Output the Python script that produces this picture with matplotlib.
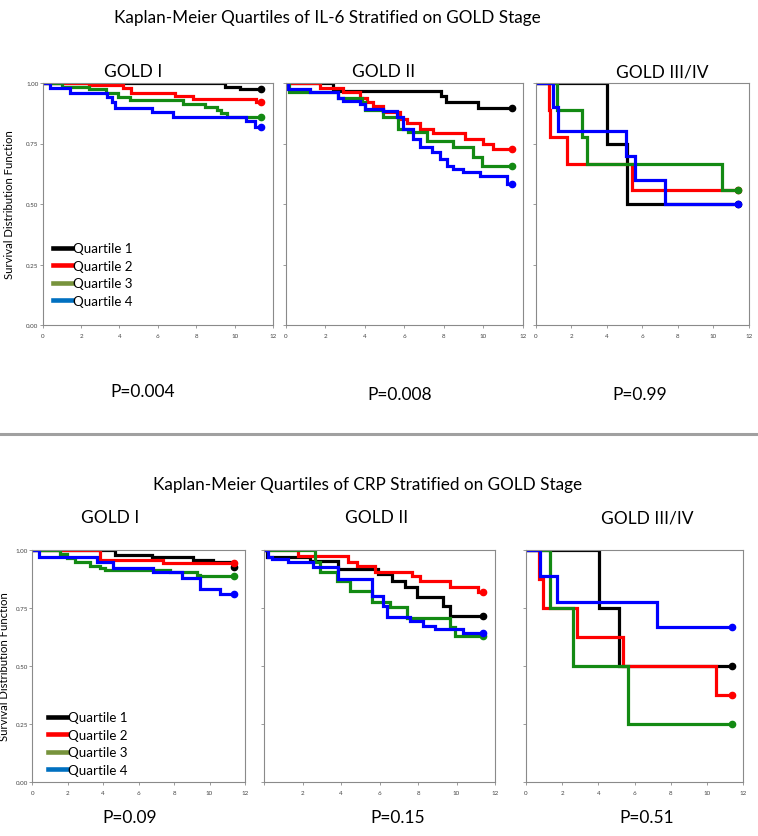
import matplotlib
matplotlib.use("Agg")
import matplotlib.pyplot as plt
from matplotlib.lines import Line2D

plt.rcParams["font.family"] = ["Lato", "DejaVu Sans"]

W, H = 758, 837

QUARTILES = ["Quartile 1", "Quartile 2", "Quartile 3", "Quartile 4"]
LINE_COLORS = ["#000000", "#ff0000", "#138a13", "#0000ff"]
LEGEND_COLORS = ["#000000", "#ff0000", "#77933c", "#0070c0"]
STAGES = ["GOLD I", "GOLD II", "GOLD III/IV"]
TITLES = ["Kaplan-Meier Quartiles of IL-6 Stratified on GOLD Stage",
          "Kaplan-Meier Quartiles of CRP Stratified on GOLD Stage"]
P_IL6 = ["P=0.004", "P=0.008", "P=0.99"]
P_CRP = ["P=0.09", "P=0.15", "P=0.51"]
X_TICKS = [0, 2, 4, 6, 8, 10, 12]
X_LABELS = ["0", "2", "4", "6", "8", "10", "12"]
X_LABELS_NO0 = ["", "2", "4", "6", "8", "10", "12"]
Y_TICKS = [0, 0.25, 0.5, 0.75, 1.0]
Y_LABELS = ["0.00", "0.25", "0.50", "0.75", "1.00"]

# ── IL-6, GOLD I ──────────────────────────────────────────────────────────
IL6_G1_Q1_T = [0, 9.5, 10.3, 11.4]
IL6_G1_Q1_S = [1, 0.985, 0.975, 0.975]
IL6_G1_Q2_T = [0, 2.4, 4.2, 4.6, 6.9, 7.85, 11.1, 11.4]
IL6_G1_Q2_S = [1, 0.99, 0.978, 0.959, 0.945, 0.934, 0.92, 0.92]
IL6_G1_Q3_T = [0, 1.0, 2.4, 3.3, 3.9, 4.55, 7.3, 8.45, 9.06, 9.3, 9.6, 11.4]
IL6_G1_Q3_S = [1, 0.985, 0.975, 0.957, 0.942, 0.929, 0.913, 0.9, 0.888, 0.875, 0.861, 0.861]
IL6_G1_Q4_T = [0, 0.38, 1.42, 3.33, 3.6, 3.76, 5.68, 6.8, 10.6, 11.06, 11.4]
IL6_G1_Q4_S = [1, 0.979, 0.959, 0.942, 0.921, 0.897, 0.88, 0.858, 0.845, 0.817, 0.817]

# ── IL-6, GOLD II ─────────────────────────────────────────────────────────
IL6_G2_Q1_T = [0, 2.4, 7.85, 8.1, 9.74, 11.45]
IL6_G2_Q1_S = [1, 0.968, 0.945, 0.92, 0.897, 0.897]
IL6_G2_Q2_T = [0, 1.73, 2.91, 3.76, 4.09, 4.4, 4.94, 5.78, 6.12, 6.79, 7.46, 9.06, 9.99, 10.5, 11.45]
IL6_G2_Q2_S = [1, 0.978, 0.961, 0.94, 0.92, 0.906, 0.879, 0.851, 0.833, 0.81, 0.792, 0.769, 0.748, 0.727, 0.727]
IL6_G2_Q3_T = [0, 0.18, 2.66, 3.84, 4.01, 4.94, 5.69, 6.2, 7.13, 8.47, 9.49, 9.91, 11.45]
IL6_G2_Q3_S = [1, 0.961, 0.94, 0.92, 0.89, 0.858, 0.81, 0.796, 0.762, 0.734, 0.693, 0.658, 0.658]
IL6_G2_Q4_T = [0, 0.13, 1.23, 2.66, 2.91, 3.76, 4.01, 4.94, 5.61, 5.95, 6.45, 6.79, 7.38, 7.8,
               8.14, 8.47, 8.98, 9.82, 11.17, 11.45]
IL6_G2_Q4_S = [1, 0.975, 0.961, 0.94, 0.927, 0.913, 0.893, 0.886, 0.858, 0.81, 0.769, 0.734, 0.713, 0.686,
               0.658, 0.645, 0.631, 0.617, 0.583, 0.583]

# ── IL-6, GOLD III/IV ─────────────────────────────────────────────────────
IL6_G3_Q1_T = [0, 4.03, 5.12, 11.4]
IL6_G3_Q1_S = [1, 0.75, 0.5, 0.5]
IL6_G3_Q2_T = [0, 0.75, 0.8, 1.76, 5.4, 11.4]
IL6_G3_Q2_S = [1, 0.889, 0.778, 0.667, 0.556, 0.556]
IL6_G3_Q3_T = [0, 1.18, 2.6, 2.87, 10.46, 11.4]
IL6_G3_Q3_S = [1, 0.889, 0.778, 0.667, 0.556, 0.556]
IL6_G3_Q4_T = [0, 0.99, 1.27, 5.08, 5.58, 7.27, 11.4]
IL6_G3_Q4_S = [1, 0.9, 0.8, 0.7, 0.6, 0.5, 0.5]

# ── CRP, GOLD I ───────────────────────────────────────────────────────────
CRP_G1_Q1_T = [0, 4.67, 6.73, 9.09, 10.22, 11.3, 11.4]
CRP_G1_Q1_S = [1, 0.98, 0.968, 0.957, 0.947, 0.928, 0.928]
CRP_G1_Q2_T = [0, 3.82, 7.4, 11.4]
CRP_G1_Q2_S = [1, 0.958, 0.944, 0.944]
CRP_G1_Q3_T = [0, 1.56, 1.94, 2.41, 3.26, 3.82, 4.1, 7.77, 9.28, 9.46, 11.4]
CRP_G1_Q3_S = [1, 0.983, 0.964, 0.95, 0.933, 0.921, 0.914, 0.904, 0.894, 0.887, 0.887]
CRP_G1_Q4_T = [0, 0.4, 3.63, 4.57, 6.83, 8.43, 9.46, 10.6, 11.4]
CRP_G1_Q4_S = [1, 0.971, 0.947, 0.921, 0.904, 0.878, 0.832, 0.811, 0.811]

# ── CRP, GOLD II ──────────────────────────────────────────────────────────
CRP_G2_Q1_T = [0, 0.12, 2.38, 3.85, 5.93, 6.63, 7.32, 7.93, 9.32, 9.66, 11.4]
CRP_G2_Q1_S = [1, 0.968, 0.954, 0.92, 0.897, 0.868, 0.84, 0.796, 0.76, 0.714, 0.714]
CRP_G2_Q2_T = [0, 1.77, 4.37, 4.81, 5.76, 7.67, 8.1, 9.66, 11.14, 11.4]
CRP_G2_Q2_S = [1, 0.973, 0.947, 0.933, 0.907, 0.89, 0.865, 0.84, 0.818, 0.818]
CRP_G2_Q3_T = [0, 2.64, 2.9, 3.77, 4.46, 5.59, 6.54, 7.41, 9.66, 9.92, 11.4]
CRP_G2_Q3_S = [1, 0.947, 0.904, 0.868, 0.825, 0.778, 0.753, 0.706, 0.667, 0.631, 0.631]
CRP_G2_Q4_T = [0, 0.21, 0.4, 1.25, 2.55, 3.85, 5.59, 6.2, 6.37, 7.58, 8.27, 8.88, 10.36, 11.4]
CRP_G2_Q4_S = [1, 0.971, 0.961, 0.947, 0.925, 0.875, 0.803, 0.76, 0.71, 0.696, 0.674, 0.66, 0.643, 0.643]

# ── CRP, GOLD III/IV ──────────────────────────────────────────────────────
CRP_G3_Q1_T = [0, 4.05, 5.14, 11.4]
CRP_G3_Q1_S = [1, 0.75, 0.5, 0.5]
CRP_G3_Q2_T = [0, 0.74, 0.96, 2.8, 5.38, 10.5, 11.4]
CRP_G3_Q2_S = [1, 0.875, 0.75, 0.625, 0.5, 0.375, 0.375]
CRP_G3_Q3_T = [0, 1.33, 2.58, 5.65, 11.4]
CRP_G3_Q3_S = [1, 0.75, 0.5, 0.25, 0.25]
CRP_G3_Q4_T = [0, 0.77, 1.73, 7.26, 11.4]
CRP_G3_Q4_S = [1, 0.889, 0.778, 0.667, 0.667]

PANELS = [
    [(IL6_G1_Q1_T, IL6_G1_Q1_S), (IL6_G1_Q2_T, IL6_G1_Q2_S), (IL6_G1_Q3_T, IL6_G1_Q3_S), (IL6_G1_Q4_T, IL6_G1_Q4_S)],
    [(IL6_G2_Q1_T, IL6_G2_Q1_S), (IL6_G2_Q2_T, IL6_G2_Q2_S), (IL6_G2_Q3_T, IL6_G2_Q3_S), (IL6_G2_Q4_T, IL6_G2_Q4_S)],
    [(IL6_G3_Q1_T, IL6_G3_Q1_S), (IL6_G3_Q2_T, IL6_G3_Q2_S), (IL6_G3_Q3_T, IL6_G3_Q3_S), (IL6_G3_Q4_T, IL6_G3_Q4_S)],
    [(CRP_G1_Q1_T, CRP_G1_Q1_S), (CRP_G1_Q2_T, CRP_G1_Q2_S), (CRP_G1_Q3_T, CRP_G1_Q3_S), (CRP_G1_Q4_T, CRP_G1_Q4_S)],
    [(CRP_G2_Q1_T, CRP_G2_Q1_S), (CRP_G2_Q2_T, CRP_G2_Q2_S), (CRP_G2_Q3_T, CRP_G2_Q3_S), (CRP_G2_Q4_T, CRP_G2_Q4_S)],
    [(CRP_G3_Q1_T, CRP_G3_Q1_S), (CRP_G3_Q2_T, CRP_G3_Q2_S), (CRP_G3_Q3_T, CRP_G3_Q3_S), (CRP_G3_Q4_T, CRP_G3_Q4_S)],
]

# axes boxes in pixels: left, top, right, bottom
BOXES = [(42.7, 84, 273, 326), (285.7, 84, 523, 326), (535.7, 84, 749, 326),
         (32.3, 551, 245, 783), (264.3, 551, 495, 783), (526, 551, 743.3, 783)]


def px_rect(l, t, r, b):
    return [l / W, 1 - b / H, (r - l) / W, (b - t) / H]


def fig_text(fig, x, y, s, size):
    fig.text(x / W, 1 - y / H, s, ha="center", va="center", fontsize=size)


fig = plt.figure(figsize=(W / 100, H / 100), dpi=100)

for i, (curves, box) in enumerate(zip(PANELS, BOXES)):
    ax = fig.add_axes(px_rect(*box))
    for (t, s), col in zip(curves, LINE_COLORS):
        ax.step(t, s, where="post", color=col, lw=2.3, solid_joinstyle="miter")
        ax.plot(t[-1], s[-1], "o", color=col, ms=4.5)
    ax.set_xlim(0, 12)
    ax.set_ylim(0, 1)
    ax.set_xticks(X_TICKS)
    ax.set_xticklabels(X_LABELS_NO0 if i == 4 else X_LABELS)
    ax.set_yticks(Y_TICKS)
    for sp in ax.spines.values():
        sp.set_color("#8a8a8a")
        sp.set_linewidth(0.8)
    ax.tick_params(length=2, width=0.6, color="#8a8a8a", labelsize=4.5,
                   labelcolor="#444444")
    ax.tick_params(axis="x", pad=3.5)
    ax.tick_params(axis="y", pad=1)
    if i % 3 == 0:
        ax.set_yticklabels(Y_LABELS)
        ax.set_ylabel("Survival Distribution Function", fontsize=8.2)
        lx = 15 if i == 0 else 10.5
        ax.yaxis.set_label_coords(-(box[0] - lx) / (box[2] - box[0]), 0.5)
        handles = [Line2D([], [], color=c, lw=3.3) for c in LEGEND_COLORS]
        anchor = (0.045, 0.342) if i == 0 else (0.074, 0.305)
        ax.legend(handles, QUARTILES, loc="upper left", bbox_to_anchor=anchor,
                  frameon=False, fontsize=9.6, handlelength=1.45,
                  handletextpad=0.05, labelspacing=0.41, borderpad=0,
                  borderaxespad=0)
    else:
        ax.set_yticklabels([])

# titles, stage labels, p-values
fig_text(fig, 327, 18, TITLES[0], 12.3)
fig_text(fig, 368, 485, TITLES[1], 12.3)
for x, s in zip([133, 384, 662], STAGES):
    fig_text(fig, x, 72, s, 12.5)
for x, s in zip([110, 377, 647], STAGES):
    fig_text(fig, x, 518, s, 12.5)
for (x, y), s in zip([(143, 392), (400, 395), (640, 395)], P_IL6):
    fig_text(fig, x, y, s, 12.5)
for x, s in zip([130, 398, 647], P_CRP):
    fig_text(fig, x, 818, s, 12.5)

# grey separator between the two blocks
fig.add_artist(Line2D([0, 1], [1 - 435 / H] * 2, transform=fig.transFigure,
                      color="#a0a0a0", lw=2.2))

fig.savefig("out.png", dpi=100)
